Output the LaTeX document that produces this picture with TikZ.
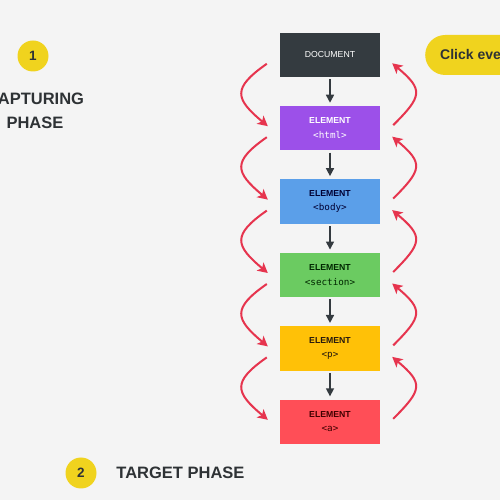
\documentclass[tikz,border=0pt]{standalone}
\usepackage{fontspec}
\setmainfont{Liberation Sans}
\setmonofont{DejaVu Sans Mono}
\usetikzlibrary{arrows.meta,positioning}

\definecolor{bgcol}{HTML}{F4F4F4}
\definecolor{darktext}{HTML}{2E3235}
\definecolor{darkline}{HTML}{343A3F}
\definecolor{yellowtag}{HTML}{F0D31E}
\definecolor{bubblered}{HTML}{E6344E}
\definecolor{doccol}{HTML}{343B40}
\definecolor{htmlcol}{HTML}{9C50E9}
\definecolor{bodycol}{HTML}{5B9FE9}
\definecolor{sectcol}{HTML}{6BCB61}
\definecolor{paracol}{HTML}{FFC107}
\definecolor{linkcol}{HTML}{FF4E57}

\newcommand{\elcode}[1]{{\fontsize{9.3}{14}\selectfont\ttfamily\mdseries #1}}

\begin{document}
\begin{tikzpicture}[x=1pt,y=1pt,
    box/.style={minimum width=100pt, minimum height=44.5pt, inner sep=0pt, align=center,
        font=\fontsize{8.7}{14.5}\selectfont\bfseries},
    flow/.style={-{Triangle[length=8pt,width=8pt]}, line width=1.5pt, draw=darkline,
        shorten <=2pt, shorten >=3pt},
    bubble/.style={-{Stealth[length=10pt,width=10.5pt,inset=2.5pt]}, line width=2pt, draw=bubblered},
    badge/.style={circle, fill=yellowtag, minimum size=31pt, inner sep=0pt,
        font=\fontsize{13.5}{13.5}\selectfont\bfseries, text=darktext},
    phase/.style={font=\fontsize{16.5}{24}\selectfont\bfseries, text=darktext, inner sep=0pt}]
    % Page
    \useasboundingbox (0,0) rectangle (500,500);
    \clip (0,0) rectangle (500,500);
    \fill[bgcol] (0,0) rectangle (500,500);

    % Phase labels
    \node[badge] (one) at (33,444) {1};
    \node[phase, align=center] (capture) at (35,389) {CAPTURING\\PHASE};
    \node[badge] (two) at (81,27) {2};
    \node[phase, right=19.5pt of two] (target) {TARGET PHASE};
    \node[fill=yellowtag, rounded corners=20pt, minimum height=40pt, inner xsep=15pt,
        anchor=west, font=\fontsize{14}{14}\selectfont\bfseries, text=darktext]
        (click) at (425,445) {Click event\hspace{30pt}};

    % DOM tree
    \node[box, fill=doccol, text=white, font=\fontsize{8.7}{14}\selectfont\mdseries]
        (doc) at (330,445.2) {DOCUMENT};
    \node[box, fill=htmlcol, text=white, below=28.5pt of doc] (html) {ELEMENT\\\elcode{<html>}};
    \node[box, fill=bodycol, text=black!80!blue, below=28.5pt of html] (body) {ELEMENT\\\elcode{<body>}};
    \node[box, fill=sectcol, text=black!85!green, below=28.5pt of body] (sect) {ELEMENT\\\elcode{<section>}};
    \node[box, fill=paracol, text=black!80!brown, below=28.5pt of sect] (para) {ELEMENT\\\elcode{<p>}};
    \node[box, fill=linkcol, text=black!75!red, below=28.5pt of para] (link) {ELEMENT\\\elcode{<a>}};

    \draw[flow] (doc) -- (html);
    \draw[flow] (html) -- (body);
    \draw[flow] (body) -- (sect);
    \draw[flow] (sect) -- (para);
    \draw[flow] (para) -- (link);

    % Capturing (down, left) and bubbling (up, right)
    \draw[bubble] ([xshift=-13pt,yshift=-9pt]doc.west) to[out=215,in=140,looseness=1.75] ([xshift=-12pt,yshift=2pt]html.west);
    \draw[bubble] ([xshift=-13pt,yshift=-9pt]html.west) to[out=215,in=140,looseness=1.75] ([xshift=-12pt,yshift=2pt]body.west);
    \draw[bubble] ([xshift=-13pt,yshift=-9pt]body.west) to[out=215,in=140,looseness=1.75] ([xshift=-12pt,yshift=2pt]sect.west);
    \draw[bubble] ([xshift=-13pt,yshift=-9pt]sect.west) to[out=215,in=140,looseness=1.75] ([xshift=-12pt,yshift=2pt]para.west);
    \draw[bubble] ([xshift=-13pt,yshift=-9pt]para.west) to[out=215,in=140,looseness=1.75] ([xshift=-12pt,yshift=2pt]link.west);

    \draw[bubble] ([xshift=13pt,yshift=3pt]html.east) to[out=45,in=-40,looseness=1.7] ([xshift=12pt,yshift=-8.5pt]doc.east);
    \draw[bubble] ([xshift=13pt,yshift=3pt]body.east) to[out=45,in=-40,looseness=1.7] ([xshift=12pt,yshift=-8.5pt]html.east);
    \draw[bubble] ([xshift=13pt,yshift=3pt]sect.east) to[out=45,in=-40,looseness=1.7] ([xshift=12pt,yshift=-8.5pt]body.east);
    \draw[bubble] ([xshift=13pt,yshift=3pt]para.east) to[out=45,in=-40,looseness=1.7] ([xshift=12pt,yshift=-8.5pt]sect.east);
    \draw[bubble] ([xshift=13pt,yshift=3pt]link.east) to[out=45,in=-40,looseness=1.7] ([xshift=12pt,yshift=-8.5pt]para.east);
\end{tikzpicture}
\end{document}
